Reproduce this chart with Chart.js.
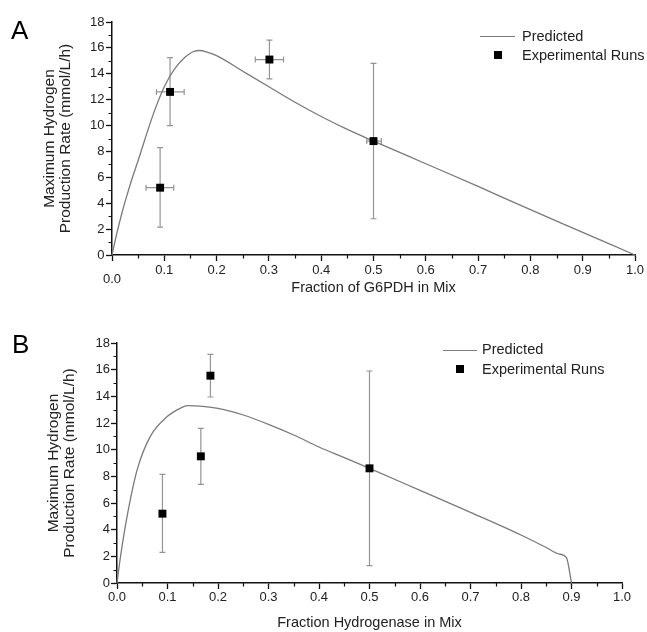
<!DOCTYPE html>
<html>
<head>
<meta charset="utf-8">
<script src="https://cdn.jsdelivr.net/npm/chart.js@4"></script>
<style>
  body { margin: 0; background: #fff; font-family: 'Liberation Sans', Arial, sans-serif; }
  #wrap { position: relative; width: 647px; height: 632px; overflow: hidden; }
  canvas { position: absolute; left: 0; }
  #cA { top: 0; }
  #cB { top: 310px; }
  .panel { position: absolute; font-size: 26px; line-height: 1; color: #000; }
  .leg { position: absolute; font-size: 14.5px; line-height: 1; color: #222; transform: translateY(-50%); white-space: nowrap; }
  .legline { position: absolute; height: 0; border-top: 1.3px solid #7a7a7a; }
  .legbox { position: absolute; width: 8px; height: 8px; background: #000; }
</style>
</head>
<body>
<div id="wrap">
  <canvas id="cA" width="647" height="300"></canvas>
  <canvas id="cB" width="647" height="322"></canvas>

  <div class="panel" style="left:11px; top:17px;">A</div>
  <div class="panel" style="left:12px; top:331px;">B</div>

  <div class="legline" style="left:480px; top:36px; width:35px;"></div>
  <div class="leg" style="left:522px; top:36px;">Predicted</div>
  <div class="legbox" style="left:494px; top:51px;"></div>
  <div class="leg" style="left:522px; top:55px;">Experimental Runs</div>

  <div class="legline" style="left:443px; top:350px; width:34px;"></div>
  <div class="leg" style="left:482px; top:349px;">Predicted</div>
  <div class="legbox" style="left:456px; top:365px;"></div>
  <div class="leg" style="left:482px; top:369px;">Experimental Runs</div>
</div>
<script>
// données
const FONT = "'Liberation Sans', Arial, sans-serif";

const xTickVals = [0, 0.1, 0.2, 0.3, 0.4, 0.5, 0.6, 0.7, 0.8, 0.9, 1.0];
const yTickVals = [0, 2, 4, 6, 8, 10, 12, 14, 16, 18];

// panneau A : G6PDH
const predXA = [0, 0.01, 0.02, 0.03, 0.04, 0.05, 0.065, 0.08, 0.1, 0.12, 0.14, 0.155, 0.168, 0.18, 0.2, 0.25, 0.3, 0.35, 0.4, 0.45, 0.5, 0.6, 0.7, 0.8, 0.9, 1.0];
const predYA = [0, 1.8, 3.4, 4.8, 6.1, 7.3, 9.2, 11.0, 13.0, 14.4, 15.3, 15.7, 15.8, 15.7, 15.4, 14.2, 13.0, 11.8, 10.7, 9.7, 8.8, 7.05, 5.3, 3.5, 1.75, 0];
const expXA = [0.092, 0.111, 0.301, 0.5];
const expYA = [5.2, 12.6, 15.1, 8.8];
const expYLoA = [2.15, 10.0, 13.6, 2.8];
const expYHiA = [8.3, 15.25, 16.6, 14.8];
const expXLoA = [0.065, 0.085, 0.274, 0.487];
const expXHiA = [0.118, 0.138, 0.328, 0.515];

// panneau B : hydrogénase
const predXB = [0, 0.007, 0.02, 0.04, 0.066, 0.1, 0.125, 0.14, 0.17, 0.2, 0.25, 0.3, 0.35, 0.4, 0.45, 0.5, 0.6, 0.7, 0.8, 0.85, 0.875, 0.89, 0.9];
const predYB = [0, 2.0, 5.0, 8.5, 11.0, 12.5, 13.1, 13.3, 13.25, 13.1, 12.6, 11.9, 11.1, 10.2, 9.4, 8.6, 6.95, 5.3, 3.6, 2.66, 2.18, 1.9, 0];
const expXB = [0.09, 0.166, 0.185, 0.5];
const expYB = [5.2, 9.5, 15.55, 8.6];
const expYLoB = [2.3, 7.4, 13.95, 1.3];
const expYHiB = [8.15, 11.6, 17.15, 15.9];

// barres d'erreur dessinées via les échelles du graphique
function errorBarPlugin(d) {
  return {
    id: 'errorBars',
    beforeDatasetsDraw(chart) {
      const {ctx, scales: {x, y}} = chart;
      const cap = 3;
      ctx.save();
      ctx.strokeStyle = '#959595';
      ctx.lineWidth = 1.2;
      d.x.forEach((xv, i) => {
        const px = x.getPixelForValue(xv), py = y.getPixelForValue(d.y[i]);
        const top = y.getPixelForValue(d.yHi[i]), bot = y.getPixelForValue(d.yLo[i]);
        ctx.beginPath();
        ctx.moveTo(px, top); ctx.lineTo(px, bot);
        ctx.moveTo(px - cap, top); ctx.lineTo(px + cap, top);
        ctx.moveTo(px - cap, bot); ctx.lineTo(px + cap, bot);
        if (d.xLo) {
          const l = x.getPixelForValue(d.xLo[i]), r = x.getPixelForValue(d.xHi[i]);
          ctx.moveTo(l, py); ctx.lineTo(r, py);
          ctx.moveTo(l, py - cap); ctx.lineTo(l, py + cap);
          ctx.moveTo(r, py - cap); ctx.lineTo(r, py + cap);
        }
        ctx.stroke();
      });
      ctx.restore();
    }
  };
}

// petites graduations intermédiaires
function minorTickPlugin(xStep, yStep) {
  return {
    id: 'minorTicks',
    afterDraw(chart) {
      const {ctx, scales: {x, y}} = chart;
      const len = 3.5;
      ctx.save();
      ctx.strokeStyle = '#111';
      ctx.lineWidth = 1.2;
      ctx.beginPath();
      for (let k = 1; k * xStep < x.max; k += 2) {
        const px = Math.round(x.getPixelForValue(k * xStep)) + 0.5;
        ctx.moveTo(px, y.bottom); ctx.lineTo(px, y.bottom + len);
      }
      for (let k = 1; k * yStep < y.max; k += 2) {
        const py = Math.round(y.getPixelForValue(k * yStep)) + 0.5;
        ctx.moveTo(x.left, py); ctx.lineTo(x.left - len, py);
      }
      ctx.stroke();
      ctx.restore();
    }
  };
}

function makePanel(id, c) {
  const pts = (xs, ys) => xs.map((x, i) => ({x, y: ys[i]}));
  return new Chart(document.getElementById(id), {
    type: 'scatter',
    data: {
      datasets: [
        { label: 'Predicted', data: pts(c.predX, c.predY), showLine: true, pointRadius: 0,
          borderColor: '#7a7a7a', borderWidth: 1.3, cubicInterpolationMode: 'monotone', clip: false, order: 2 },
        { label: 'Experimental Runs', data: pts(c.expX, c.expY), pointStyle: 'rect', pointRadius: 5.6,
          backgroundColor: '#000', borderColor: '#000', borderWidth: 0, clip: false, order: 1 }
      ]
    },
    options: {
      responsive: false, animation: false, events: [],
      layout: { padding: c.pad },
      plugins: { legend: { display: false }, tooltip: { enabled: false } },
      scales: {
        x: {
          type: 'linear', min: 0, max: 1,
          afterBuildTicks: s => { s.ticks = xTickVals.map(v => ({value: v})); },
          afterFit: s => { s.height = c.xH; },
          grid: { display: true, drawOnChartArea: false, drawTicks: true, tickLength: 6, tickColor: '#111', tickWidth: 1.3 },
          border: { display: true, color: '#111', width: 1.5 },
          ticks: {
            color: '#222', padding: c.xPad, maxRotation: 0, autoSkip: false,
            font: ctx => ({ family: FONT, size: 13, lineHeight: (c.lowZero && ctx.index === 0) ? 0.85 : 1.2 }),
            callback: v => (c.lowZero && v === 0) ? ['', '0.0'] : v.toFixed(1)
          },
          title: { display: true, text: c.xTitle, color: '#222', font: { family: FONT, size: 14.5 }, padding: { top: 0, bottom: c.xTitlePad } }
        },
        y: {
          type: 'linear', min: 0, max: 18,
          afterBuildTicks: s => { s.ticks = yTickVals.map(v => ({value: v})); },
          afterFit: s => { s.width = c.yW; },
          grid: { display: true, drawOnChartArea: false, drawTicks: true, tickLength: 6, tickColor: '#111', tickWidth: 1.3 },
          border: { display: true, color: '#111', width: 1.5 },
          ticks: { color: '#222', padding: c.yPad, autoSkip: false, font: { family: FONT, size: 13 }, callback: v => String(v) },
          title: { display: true, text: ['Maximum Hydrogen', 'Production Rate (mmol/L/h)'], color: '#222',
                   font: { family: FONT, size: 15.5, lineHeight: '16px' }, padding: { top: c.yTitlePad, bottom: 0 } }
        }
      }
    },
    plugins: [errorBarPlugin(c.err), minorTickPlugin(0.05, 1)]
  });
}

makePanel('cA', {
  predX: predXA, predY: predYA, expX: expXA, expY: expYA,
  err: { x: expXA, y: expYA, yLo: expYLoA, yHi: expYHiA, xLo: expXLoA, xHi: expXHiA },
  pad: { left: 0, top: 22, right: 12, bottom: 0 },
  xH: 45, yW: 112, xPad: 2, yPad: 1.5, lowZero: true,
  xTitle: 'Fraction of G6PDH in Mix', xTitlePad: 3, yTitlePad: 42
});

makePanel('cB', {
  predX: predXB, predY: predYB, expX: expXB, expY: expYB,
  err: { x: expXB, y: expYB, yLo: expYLoB, yHi: expYHiB },
  pad: { left: 0, top: 33, right: 25, bottom: 0 },
  xH: 49, yW: 117, xPad: 1, yPad: 1, lowZero: false,
  xTitle: 'Fraction Hydrogenase in Mix', xTitlePad: 0, yTitlePad: 46
});
</script>
</body>
</html>
